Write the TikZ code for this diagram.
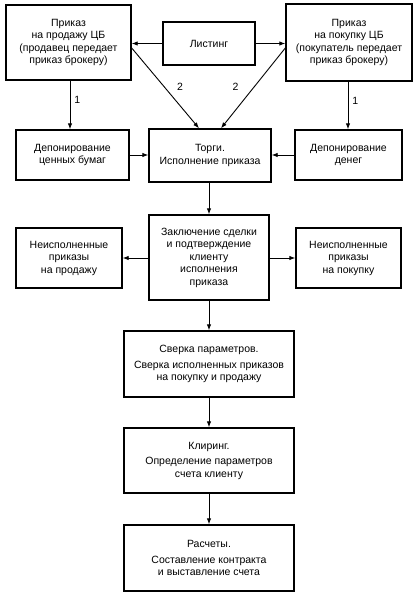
\documentclass[tikz,border=0pt]{standalone}
\usepackage{fontspec}
\setmainfont{Liberation Sans}
\usetikzlibrary{arrows.meta}
\begin{document}
\begin{tikzpicture}[x=1pt,y=-1pt,
  box/.style={draw, line width=1.4pt, align=center, inner sep=1pt,
    font=\fontsize{10.5}{12.5}\selectfont},
  arr/.style={line width=0.9pt, -{Latex[length=6pt,width=4.5pt]}},
  lbl/.style={font=\fontsize{10.5}{12.5}\selectfont, inner sep=1pt}]
\useasboundingbox (0,0) rectangle (417,597);
\fill[white] (0,0) rectangle (417,597);
\node[box, minimum width=125pt, minimum height=75pt] (A) at (68.5,42.5)
  {Приказ\\на продажу ЦБ\\(продавец передает\\приказ брокеру)};
\node[box, minimum width=92pt, minimum height=43pt] (L) at (209,43.5) {Листинг};
\node[box, minimum width=126pt, minimum height=77pt] (B) at (349,42.5)
  {Приказ\\на покупку ЦБ\\(покупатель передает\\приказ брокеру)};
\node[box, minimum width=113pt, minimum height=50pt] (DCB) at (72.5,155)
  {Депонирование\\ценных бумаг};
\node[box, minimum width=122pt, minimum height=53pt] (T) at (210,155.5)
  {Торги.\\Исполнение приказа};
\node[box, minimum width=107pt, minimum height=50pt] (DD) at (348.5,155)
  {Депонирование\\денег};
\node[box, minimum width=120pt, minimum height=85pt] (Z) at (209,257.5)
  {Заключение сделки\\и подтверждение\\клиенту\\исполнения\\приказа};
\node[box, minimum width=106pt, minimum height=60pt] (NP) at (69,258)
  {Неисполненные\\приказы\\на продажу};
\node[box, minimum width=105pt, minimum height=60pt] (NK) at (348.5,258)
  {Неисполненные\\приказы\\на покупку};
\node[box, minimum width=170pt, minimum height=66pt] (S) at (209,364)
  {Сверка параметров.\\[3pt]Сверка исполненных приказов\\на покупку и продажу};
\node[box, minimum width=170pt, minimum height=65pt] (K) at (209,460.5)
  {Клиринг.\\[3pt]Определение параметров\\счета клиенту};
\node[box, minimum width=170pt, minimum height=66pt] (R) at (209,558)
  {Расчеты.\\[3pt]Составление контракта\\и выставление счета};
\coordinate (xa) at (70,0);
\coordinate (xb) at (348,0);
% connectors
\draw[arr] (L.west) -- (A.east |- L.west);
\draw[arr] (L.east) -- (B.west |- L.east);
\draw[arr] (A.south -| xa) -- node[lbl, pos=0.4, right=3pt] {1} (DCB.north -| xa);
\draw[arr] (B.south -| xb) -- node[lbl, pos=0.4, right=3pt] {1} (DD.north -| xb);
\draw[arr] ([yshift=-5.5pt]A.east) -- node[lbl, pos=0.48, xshift=16pt] {2} ([xshift=-11pt]T.north);
\draw[arr] ([yshift=-5.5pt]B.west) -- node[lbl, pos=0.48, xshift=-19pt] {2} ([xshift=11pt]T.north);
\draw[arr] (DCB.east) -- (T.west |- DCB.east);
\draw[arr] (DD.west) -- (T.east |- DD.west);
\draw[arr] (T.south -| Z.north) -- (Z.north);
\draw[arr] (Z.west |- NP.east) -- (NP.east);
\draw[arr] (Z.east |- NK.west) -- (NK.west);
\draw[arr] (Z.south) -- (S.north);
\draw[arr] (S.south) -- (K.north);
\draw[arr] (K.south) -- (R.north);
\end{tikzpicture}
\end{document}
